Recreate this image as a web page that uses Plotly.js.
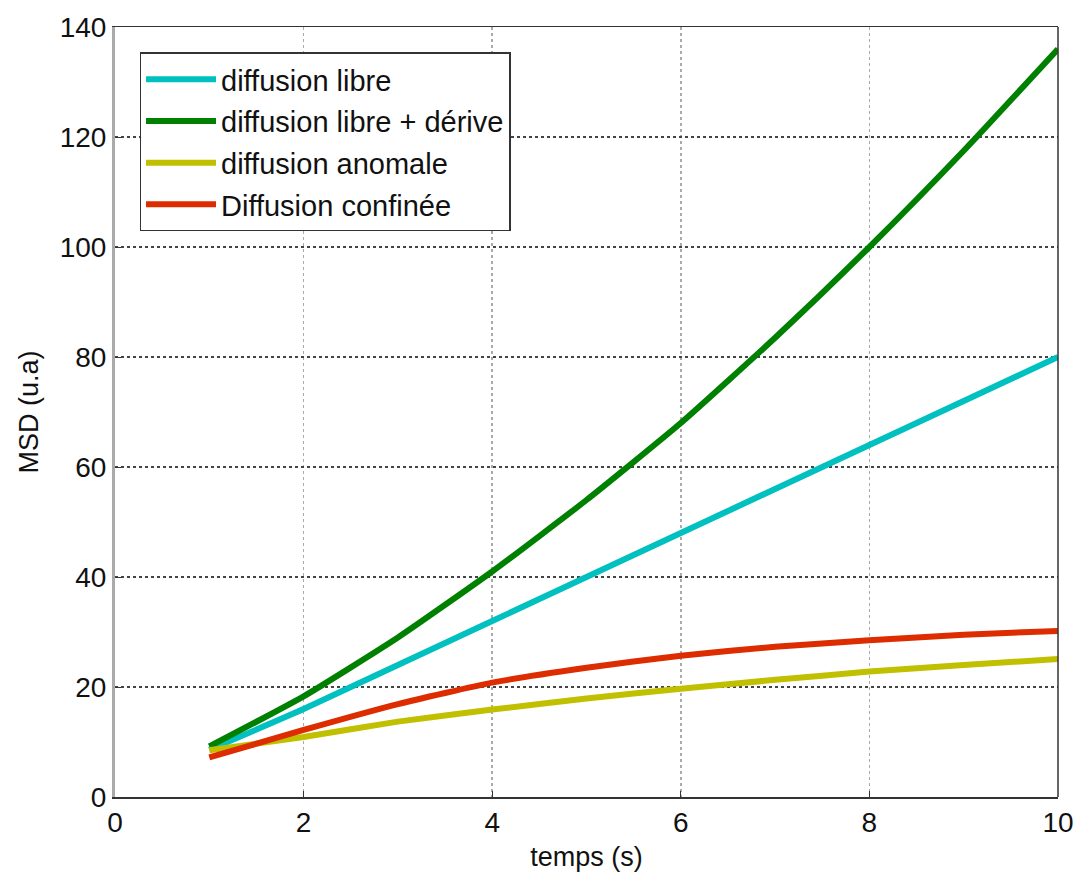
<!DOCTYPE html>
<html>
<head>
<meta charset="utf-8">
<script src="https://cdn.plot.ly/plotly-3.0.1.min.js"></script>
<style>html,body{margin:0;padding:0;background:#fff;}#chart{width:1079px;height:882px;}</style>
</head>
<body>
<div id="chart"></div>
<script>
const temps = [1, 2, 3, 4, 5, 6, 7, 8, 9, 10];
const libre = [8.6, 16, 24, 32, 40, 48, 56, 64, 72, 80];
const libreDerive = [9.2, 18.3, 29, 41, 54, 68, 83.5, 100, 117.5, 136];
const anomale = [8.5, 10.9, 13.7, 15.9, 17.9, 19.7, 21.3, 22.8, 24.0, 25.1];
const confinee = [7.2, 12.2, 16.9, 20.8, 23.5, 25.7, 27.3, 28.5, 29.5, 30.2];
const names = ['diffusion libre', 'diffusion libre + dérive', 'diffusion anomale', 'Diffusion confinée'];
const colors = ['#00c0c0', '#008000', '#c0c000', '#dd2c00'];
const series = [libre, libreDerive, anomale, confinee];

const traces = series.map((ys, i) => ({
  x: temps, y: ys, type: 'scatter', mode: 'lines', name: names[i],
  legendgroup: 'g' + i,
  line: {color: colors[i], width: 6, shape: 'spline', smoothing: 0.5}
}));

const font = {family: 'Liberation Sans, Arial, sans-serif', color: '#111'};
const layout = {
  width: 1079, height: 882,
  margin: {l: 115, r: 21, t: 27, b: 85},
  paper_bgcolor: '#fff', plot_bgcolor: '#fff',
  font: Object.assign({size: 27}, font),
  showlegend: true,
  legend: {
    x: 0.026, y: 0.967, xanchor: 'left', yanchor: 'top',
    bgcolor: '#fff', bordercolor: '#333', borderwidth: 1.5,
    font: Object.assign({size: 29}, font),
    tracegroupgap: 1, itemwidth: 70
  },
  xaxis: {
    range: [0, 10], dtick: 2, tick0: 0,
    showline: true, linecolor: '#333', linewidth: 1.5, mirror: true,
    ticks: 'inside', ticklen: 6, tickcolor: '#333',
    showgrid: true, gridcolor: '#aaa', griddash: 'dot', gridwidth: 1.5,
    zeroline: false,
    tickfont: Object.assign({size: 28}, font),
    title: {text: 'temps (s)', font: Object.assign({size: 27}, font), standoff: 10}
  },
  yaxis: {
    range: [0, 140], dtick: 20, tick0: 0,
    showline: true, linecolor: '#aaa', linewidth: 3, mirror: false,
    ticks: 'inside', ticklen: 6, tickcolor: '#333',
    showgrid: true, gridcolor: '#444', griddash: 'dot', gridwidth: 1.2,
    zeroline: false,
    tickfont: Object.assign({size: 28}, font),
    title: {text: 'MSD (u.a)', font: Object.assign({size: 27}, font), standoff: 14}
  },
  shapes: [
    {type: 'line', xref: 'paper', yref: 'paper', x0: 1, x1: 1, y0: 0, y1: 1,
     line: {color: '#333', width: 1.5}}
  ]
};
Plotly.newPlot('chart', traces, layout, {displayModeBar: false, staticPlot: true});
</script>
</body>
</html>
